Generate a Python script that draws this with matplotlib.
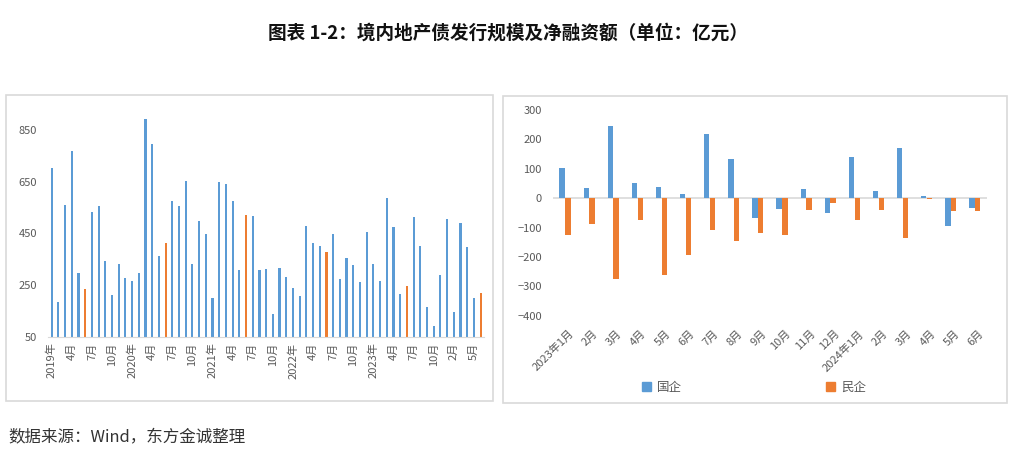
import matplotlib
matplotlib.use("Agg")
import matplotlib.pyplot as plt
from matplotlib.patches import Rectangle, Patch
import numpy as np

plt.rcParams['font.family'] = ['Noto Sans CJK SC', 'DejaVu Sans']

# ---- Left chart data: monthly issuance (亿元), Jan 2019 .. Jun 2024 ----
issuance = [703, 185, 560, 770, 299, 235, 533, 555, 344, 213, 332, 279,
            266, 296, 890, 795, 364, 414, 577, 555, 653, 333, 497, 449,
            200, 650, 641, 576, 310, 522, 517, 307, 312, 140, 317, 281,
            241, 208, 477, 413, 401, 377, 449, 274, 356, 328, 262, 456,
            332, 267, 587, 476, 218, 248, 513, 401, 166, 91, 289, 504,
            145, 492, 398, 199, 221]
highlight_idx = [5, 17, 29, 41, 53, 64]
left_tick_labels = ['2019年', '4月', '7月', '10月', '2020年', '4月', '7月', '10月',
                    '2021年', '4月', '7月', '10月', '2022年', '4月', '7月', '10月',
                    '2023年', '4月', '7月', '10月', '2月', '5月']

# ---- Right chart data: net financing (亿元) ----
months = ['2023年1月', '2月', '3月', '4月', '5月', '6月', '7月', '8月', '9月',
          '10月', '11月', '12月', '2024年1月', '2月', '3月', '4月', '5月', '6月']
soe = [102, 35, 246, 51, 39, 14, 218, 134, -68, -36, 31, -49, 140, 25, 171, 8, -95, -35]
private = [-124, -87, -275, -74, -260, -192, -108, -145, -117, -127, -39, -16, -74, -42, -134, -3, -45, -43]

BLUE = '#5B9BD5'
ORANGE = '#ED7D31'
TXT = '#595959'
AXC = '#D9D9D9'

fig = plt.figure(figsize=(10.15, 4.66), dpi=100)

# panel borders
for (x0, y0, x1, y1) in [(6, 95, 493, 401), (503, 96, 1007, 403)]:
    fig.add_artist(Rectangle((x0 / 1015, 1 - y1 / 466), (x1 - x0) / 1015, (y1 - y0) / 466,
                             transform=fig.transFigure, fill=False, edgecolor='#D9D9D9', lw=1.2))

fig.text(0.5, 1 - 33 / 466, '图表 1-2：境内地产债发行规模及净融资额（单位：亿元）',
         ha='center', va='center', fontsize=13.4, fontweight='bold', color='#111111')
fig.text(8 / 1015, 1 - 437 / 466, '数据来源：Wind，东方金诚整理', ha='left', va='center',
         fontsize=11.9, color='#333333')

# ---- Left axes ----
ax1 = fig.add_axes([0.0476, 0.2768, 0.4292, 0.489])
x = np.arange(len(issuance))
colors = [ORANGE if i in highlight_idx else BLUE for i in x]
ax1.bar(x, np.array(issuance) - 50, bottom=50, width=0.32, color=colors)
ax1.set_ylim(50, 930)
ax1.set_xlim(-0.5, len(issuance) - 0.5)
ax1.set_yticks([50, 250, 450, 650, 850])
ax1.set_xticks(np.arange(0, len(issuance), 3)[:len(left_tick_labels)])
ax1.set_xticklabels(left_tick_labels, rotation=90)
ax1.tick_params(axis='both', length=0, labelsize=8, colors=TXT)
ax1.tick_params(axis='y', pad=8)
ax1.tick_params(axis='x', pad=4)
for s in ['top', 'right', 'left']:
    ax1.spines[s].set_visible(False)
ax1.spines['bottom'].set_color(AXC)

# ---- Right axes ----
ax2 = fig.add_axes([0.5448, 0.3225, 0.4276, 0.4416])
xr = np.arange(len(months))
w = 0.22
ax2.bar(xr - w / 2 - 0.01, soe, width=w, color=BLUE, label='国企')
ax2.bar(xr + w / 2 + 0.01, private, width=w, color=ORANGE, label='民企')
ax2.set_ylim(-400, 300)
ax2.set_xlim(-0.5, len(months) - 0.5)
ax2.set_yticks(np.arange(-400, 301, 100))
ax2.axhline(0, color=AXC, lw=1.2, zorder=0)
ax2.set_xticks(xr + 0.15)
ax2.set_xticklabels(months, rotation=45, ha='right', rotation_mode='anchor')
ax2.tick_params(axis='both', length=0, labelsize=8, colors=TXT)
ax2.tick_params(axis='y', pad=8)
ax2.tick_params(axis='x', pad=9)
for s in ['top', 'right', 'left', 'bottom']:
    ax2.spines[s].set_visible(False)

handles = [Patch(color=BLUE), Patch(color=ORANGE)]
fig.legend(handles, ['国企', '民企'], loc='center', bbox_to_anchor=(0.743, 1 - 387 / 466),
           ncol=2, frameon=False, fontsize=9, handlelength=0.7, handleheight=0.7,
           handletextpad=0.5, columnspacing=11.5, labelcolor=TXT)

fig.savefig('out.png', dpi=100)
